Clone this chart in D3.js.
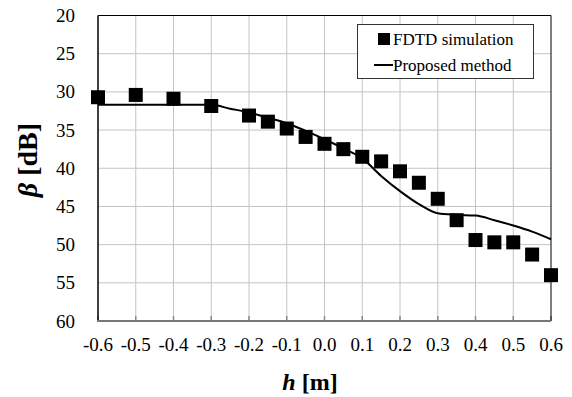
<!DOCTYPE html>
<html>
<head>
<meta charset="utf-8">
<script src="https://cdn.jsdelivr.net/npm/d3@7"></script>
</head>
<body style="margin:0">
<script>
// FDTD simulation (squares)
const simH    = [-0.6, -0.5, -0.4, -0.3, -0.2, -0.15, -0.1, -0.05, 0.0, 0.05, 0.1, 0.15, 0.2, 0.25, 0.3, 0.35, 0.4, 0.45, 0.5, 0.55, 0.6]
const simBeta = [30.7, 30.4, 30.9, 31.85, 33.1, 33.9, 34.8, 35.9, 36.8, 37.5, 38.5, 39.1, 40.4, 41.9, 44.0, 46.8, 49.4, 49.7, 49.7, 51.3, 54.0]

// Proposed method (line)
const lineH    = [-0.6, -0.5, -0.4, -0.3, -0.25, -0.2, -0.15, -0.1, -0.05, 0.0, 0.05, 0.1, 0.15, 0.2, 0.25, 0.3, 0.35, 0.4, 0.45, 0.5, 0.55, 0.6]
const lineBeta = [31.7, 31.7, 31.7, 31.7, 32.2, 32.7, 33.4, 34.1, 35.1, 36.2, 37.4, 38.7, 41.0, 43.0, 44.7, 45.9, 46.1, 46.2, 46.8, 47.5, 48.3, 49.3]

const xTicks = [-0.6, -0.5, -0.4, -0.3, -0.2, -0.1, 0.0, 0.1, 0.2, 0.3, 0.4, 0.5, 0.6]
const yTicks = [20, 25, 30, 35, 40, 45, 50, 55, 60]

const W = 572, H = 397
const svg = d3.select("body").append("svg")
    .attr("width", W)
    .attr("height", H)

const font = t => t.attr("font-family", "Liberation Serif")

const x = d3.scaleLinear().domain([-0.6, 0.6]).range([98, 551])
const y = d3.scaleLinear().domain([20, 60]).range([15.5, 321])

// grid
svg.append("g").selectAll("line")
    .data(xTicks.slice(1, -1))
    .enter().append("line")
    .attr("x1", d => x(d)).attr("x2", d => x(d))
    .attr("y1", y(20)).attr("y2", y(60))
    .attr("stroke", "#c4c4c4").attr("stroke-width", 1)
svg.append("g").selectAll("line")
    .data(yTicks.slice(1, -1))
    .enter().append("line")
    .attr("x1", x(-0.6)).attr("x2", x(0.6))
    .attr("y1", d => y(d)).attr("y2", d => y(d))
    .attr("stroke", "#c4c4c4").attr("stroke-width", 1)

// small ticks on bottom axis
svg.append("g").selectAll("line")
    .data(xTicks)
    .enter().append("line")
    .attr("x1", d => x(d)).attr("x2", d => x(d))
    .attr("y1", y(60) - 5).attr("y2", y(60))
    .attr("stroke", "#888").attr("stroke-width", 1.5)

// frame
svg.append("line")
    .attr("x1", x(-0.6)).attr("x2", x(0.6)).attr("y1", y(20)).attr("y2", y(20))
    .attr("stroke", "#000").attr("stroke-width", 1)
svg.append("line")
    .attr("x1", x(0.6)).attr("x2", x(0.6)).attr("y1", y(20)).attr("y2", y(60))
    .attr("stroke", "#000").attr("stroke-width", 1)
svg.append("line")
    .attr("x1", x(-0.6)).attr("x2", x(-0.6)).attr("y1", y(20)).attr("y2", y(60))
    .attr("stroke", "#000").attr("stroke-width", 1.5)
svg.append("line")
    .attr("x1", x(-0.6) - 1).attr("x2", x(0.6)).attr("y1", y(60)).attr("y2", y(60))
    .attr("stroke", "#777").attr("stroke-width", 2)

// tick labels
svg.append("g").selectAll("text")
    .data(yTicks)
    .enter().append("text")
    .call(font)
    .attr("x", 75)
    .attr("y", d => y(d) + 6.5)
    .attr("text-anchor", "end")
    .attr("font-size", 19)
    .text(d => d)
svg.append("g").selectAll("text")
    .data(xTicks)
    .enter().append("text")
    .call(font)
    .attr("x", d => x(d))
    .attr("y", 351)
    .attr("text-anchor", "middle")
    .attr("font-size", 19)
    .text(d => d.toFixed(1))

// axis titles
const yt = svg.append("text")
    .call(font)
    .attr("transform", "translate(37,160) rotate(-90)")
    .attr("text-anchor", "middle")
    .attr("font-size", 28)
    .attr("font-weight", "bold")
yt.append("tspan").call(font).attr("font-style", "italic").text("β")
yt.append("tspan").call(font).text(" [dB]")

const xt = svg.append("text")
    .call(font)
    .attr("x", 310)
    .attr("y", 390)
    .attr("text-anchor", "middle")
    .attr("font-size", 24)
    .attr("font-weight", "bold")
xt.append("tspan").call(font).attr("font-style", "italic").text("h")
xt.append("tspan").call(font).text(" [m]")

// proposed method line
const line = d3.line()
    .x(d => x(d[0]))
    .y(d => y(d[1]))
    .curve(d3.curveMonotoneX)
svg.append("path")
    .datum(d3.zip(lineH, lineBeta))
    .attr("d", line)
    .attr("fill", "none")
    .attr("stroke", "#000")
    .attr("stroke-width", 2)

// FDTD squares
const s = 14
svg.append("g").selectAll("rect")
    .data(d3.zip(simH, simBeta))
    .enter().append("rect")
    .attr("x", d => x(d[0]) - s / 2)
    .attr("y", d => y(d[1]) - s / 2)
    .attr("width", s)
    .attr("height", s)
    .attr("fill", "#000")

// legend
const lg = svg.append("g")
lg.append("rect")
    .attr("x", 357.5).attr("y", 24.5)
    .attr("width", 176).attr("height", 54)
    .attr("fill", "#fff")
    .attr("stroke", "#333").attr("stroke-width", 1)
lg.append("rect")
    .attr("x", 378).attr("y", 33)
    .attr("width", 12).attr("height", 12)
    .attr("fill", "#000")
lg.append("text")
    .call(font)
    .attr("x", 393).attr("y", 45)
    .attr("font-size", 17)
    .text("FDTD simulation")
lg.append("line")
    .attr("x1", 374).attr("x2", 393)
    .attr("y1", 65).attr("y2", 65)
    .attr("stroke", "#000").attr("stroke-width", 2)
lg.append("text")
    .call(font)
    .attr("x", 393).attr("y", 71)
    .attr("font-size", 17)
    .text("Proposed method")
</script>
</body>
</html>
